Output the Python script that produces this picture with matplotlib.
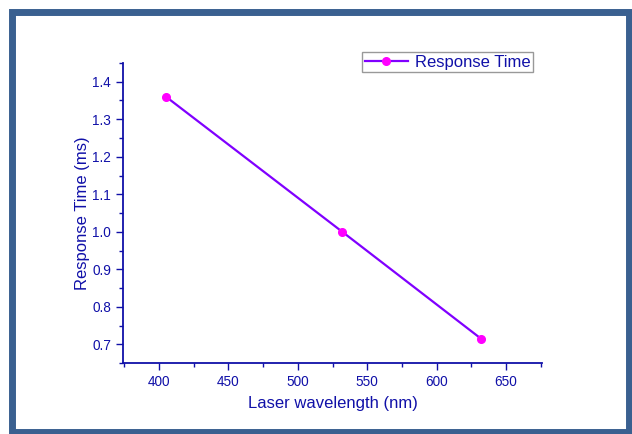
import matplotlib
matplotlib.use("Agg")
import matplotlib.pyplot as plt
from matplotlib.patches import Rectangle
from matplotlib.ticker import MultipleLocator

wavelength = [405, 532, 632]
response_time = [1.36, 1.0, 0.715]
series_label = "Response Time"
x_label = "Laser wavelength (nm)"
y_label = "Response Time (ms)"

navy = "#1010a8"
plt.rcParams['font.family'] = ['Liberation Sans', 'DejaVu Sans']

fig = plt.figure(figsize=(6.32, 4.34), dpi=100)
fig.patch.set_facecolor("white")
# outer frame
fig.patches.append(Rectangle((12/632, 1 - 431.5/434), 616.5/632, 420/434,
                             transform=fig.transFigure, fill=False,
                             edgecolor="#3a6090", linewidth=5))

ax = fig.add_axes([123/632, 1 - 363/434, 419/632, 300/434])
ax.plot(wavelength, response_time, color="#8000ff", linewidth=1.6,
        marker="o", markersize=5.5, markerfacecolor="#ff00ff",
        markeredgecolor="#ff00ff", label=series_label)

ax.set_xlim(374, 676)
ax.set_ylim(0.65, 1.45)
ax.xaxis.set_major_locator(MultipleLocator(50))
ax.xaxis.set_minor_locator(MultipleLocator(25))
ax.yaxis.set_major_locator(MultipleLocator(0.1))
ax.yaxis.set_minor_locator(MultipleLocator(0.05))
ax.yaxis.set_major_formatter(matplotlib.ticker.FormatStrFormatter('%.1f'))

for s in ["top", "right"]:
    ax.spines[s].set_visible(False)
for s in ["left", "bottom"]:
    ax.spines[s].set_color(navy)
    ax.spines[s].set_linewidth(1.3)

ax.tick_params(which="major", direction="out", length=5, width=1, colors=navy,
               labelsize=9.8, labelcolor=navy)
ax.tick_params(which="minor", direction="out", length=3, width=1, colors=navy)

ax.set_xlabel(x_label, fontsize=12, color=navy, labelpad=5)
ax.set_ylabel(y_label, fontsize=12, color=navy, labelpad=2)

leg = ax.legend(loc="upper left", bbox_to_anchor=(362/632, 1 - 52/434),
                bbox_transform=fig.transFigure, fontsize=12, frameon=True,
                fancybox=False, handlelength=2.6, borderpad=0.15,
                handletextpad=0.4, borderaxespad=0)
leg.get_frame().set_edgecolor("#808080")
leg.get_frame().set_linewidth(1.0)
for t in leg.get_texts():
    t.set_color(navy)

fig.savefig("out.png", dpi=100)
